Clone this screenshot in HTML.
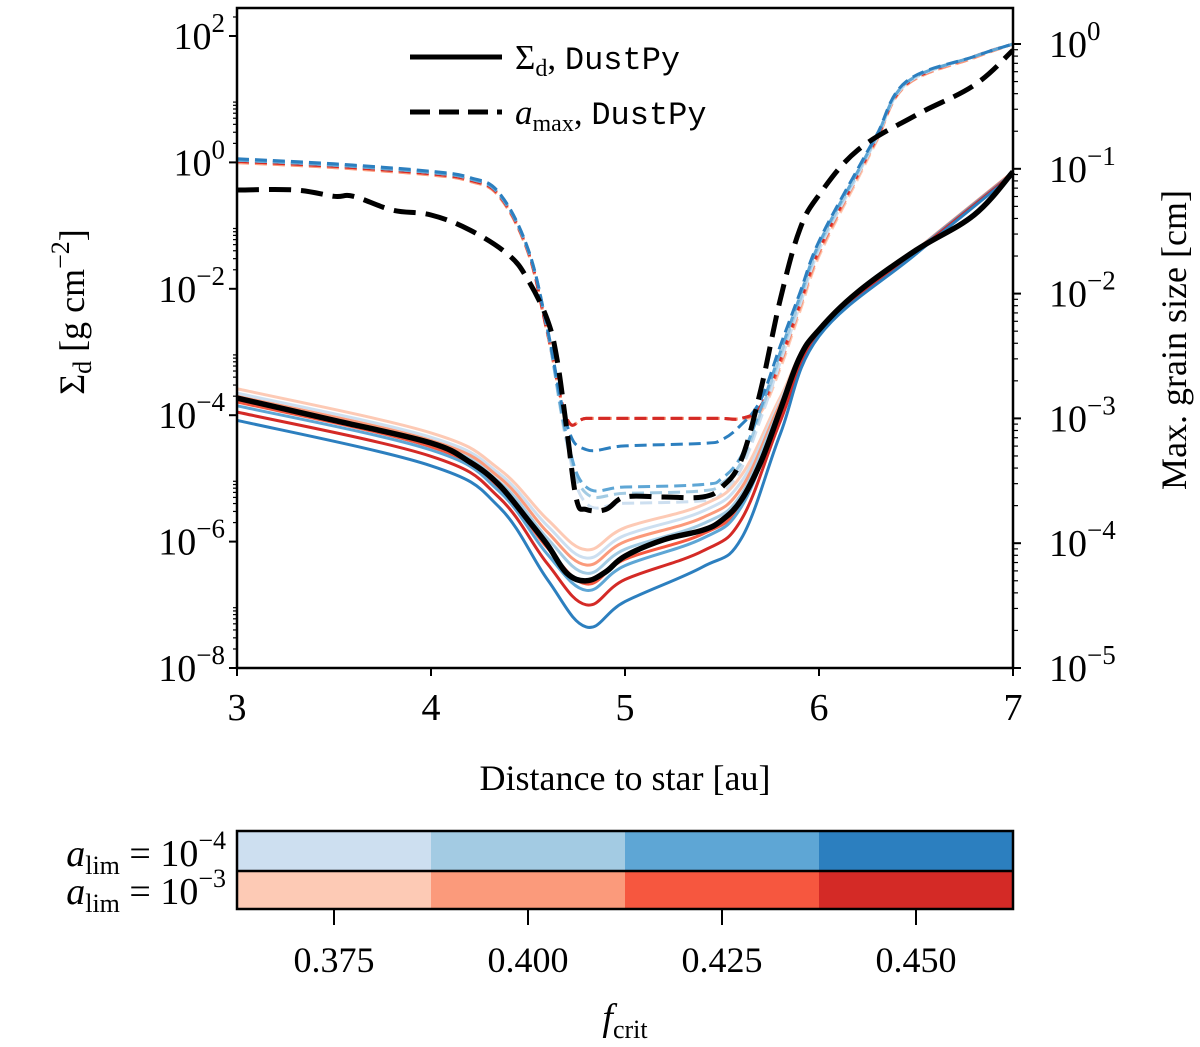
<!DOCTYPE html>
<html><head><meta charset="utf-8">
<style>
html,body{margin:0;padding:0;background:#fff;}
svg{display:block;font-family:"Liberation Serif",serif;}
.mono{font-family:"Liberation Mono",monospace;}
</style></head>
<body>
<svg id="chart" width="1200" height="1047" viewBox="0 0 1200 1047" xmlns="http://www.w3.org/2000/svg">
<g id="plot"></g>
<g id="axes"></g>
<g id="legend">
  <line x1="410" y1="57" x2="502" y2="57" stroke="#000" stroke-width="5"/>
  <text x="515" y="69" font-size="35">Σ<tspan font-size="24" dy="7">d</tspan><tspan dy="-7">, </tspan><tspan class="mono" font-size="32">DustPy</tspan></text>
  <line x1="410" y1="112" x2="502" y2="112" stroke="#000" stroke-width="5" stroke-dasharray="20,9"/>
  <text x="515" y="124" font-size="35"><tspan font-style="italic">a</tspan><tspan font-size="24" dy="7">max</tspan><tspan dy="-7">, </tspan><tspan class="mono" font-size="32">DustPy</tspan></text>
</g>
<g id="cbar"></g>
</svg>
<script>
const xTicks=[3,4,5,6,7];
const leftTicks=[2,0,-2,-4,-6,-8];
const rightTicks=[0,-1,-2,-3,-4,-5];
const cbTicks=["0.375","0.400","0.425","0.450"];
const blues=["#cddff0","#a3cbe3","#5ea6d5","#2c7fbf"];
const reds=["#fdcab5","#fb9a7b","#f6573f","#d42a26"];
// black Sigma_d (log10)
const blackX=[3,3.5,4,4.2,4.35,4.5,4.6,4.7,4.8,4.9,5.0,5.2,5.4,5.5,5.6,5.7,5.8,5.9,6.0,6.2,6.5,6.8,7.0];
const blackSigma=[-3.73,-4.08,-4.44,-4.74,-5.10,-5.66,-6.05,-6.50,-6.62,-6.48,-6.23,-5.97,-5.82,-5.66,-5.34,-4.74,-3.92,-3.09,-2.65,-2.05,-1.39,-0.83,-0.15];
const blackAx=[3,3.3,3.5,3.6,3.8,4.0,4.2,4.4,4.5,4.6,4.65,4.7,4.75,4.8,4.9,5.0,5.2,5.4,5.5,5.6,5.7,5.8,5.9,6.0,6.2,6.5,6.8,7.0];
const blackAmax=[-1.17,-1.17,-1.22,-1.22,-1.33,-1.37,-1.49,-1.69,-1.89,-2.21,-2.53,-3.09,-3.65,-3.73,-3.73,-3.63,-3.63,-3.63,-3.55,-3.33,-2.77,-2.05,-1.49,-1.21,-0.85,-0.57,-0.33,-0.05];
// coloured Sigma_d
const sX=[3,4,4.35,4.6,4.8,5.0,5.4,5.6,5.8,6.0,6.5,7];
const sigmaBlue=[
[-3.65,-4.35,-4.92,-5.75,-6.26,-5.90,-5.52,-5.05,-3.78,-2.64,-1.39,-0.15],
[-3.76,-4.45,-5.05,-5.95,-6.50,-6.12,-5.72,-5.25,-3.88,-2.66,-1.40,-0.16],
[-3.85,-4.55,-5.20,-6.20,-6.77,-6.38,-5.95,-5.45,-3.98,-2.68,-1.40,-0.17],
[-4.08,-4.80,-5.45,-6.60,-7.35,-6.95,-6.40,-5.95,-4.30,-2.75,-1.45,-0.20]];
const sigmaRed=[
[-3.58,-4.28,-4.85,-5.65,-6.13,-5.78,-5.42,-4.95,-3.72,-2.63,-1.39,-0.15],
[-3.70,-4.40,-4.98,-5.85,-6.37,-6.00,-5.62,-5.15,-3.82,-2.65,-1.39,-0.15],
[-3.79,-4.50,-5.15,-6.10,-6.67,-6.28,-5.88,-5.40,-3.95,-2.67,-1.40,-0.16],
[-3.95,-4.65,-5.30,-6.35,-7.00,-6.60,-6.15,-5.65,-4.10,-2.70,-1.42,-0.18]];
// coloured a_max
const aX=[3,3.5,4,4.2,4.35,4.5,4.6,4.7,4.8,5.0,5.4,5.5,5.6,5.7,5.8,5.9,6.0,6.2,6.3,6.45,6.8,7];
const amaxBlue=[
[-0.93,-0.97,-1.03,-1.08,-1.20,-1.65,-2.29,-3.20,-3.68,-3.68,-3.66,-3.60,-3.40,-3.00,-2.55,-2.10,-1.65,-1.05,-0.75,-0.32,-0.10,0.0],
[-0.93,-0.97,-1.03,-1.08,-1.20,-1.65,-2.29,-3.18,-3.60,-3.60,-3.58,-3.52,-3.35,-2.95,-2.50,-2.06,-1.62,-1.03,-0.74,-0.31,-0.10,0.0],
[-0.93,-0.97,-1.03,-1.08,-1.20,-1.65,-2.29,-3.15,-3.55,-3.55,-3.53,-3.48,-3.30,-2.92,-2.47,-2.03,-1.60,-1.02,-0.73,-0.31,-0.10,0.0],
[-0.92,-0.96,-1.02,-1.07,-1.19,-1.64,-2.28,-3.05,-3.25,-3.22,-3.20,-3.17,-3.05,-2.85,-2.42,-2.00,-1.58,-1.00,-0.72,-0.30,-0.10,0.0]];
const amaxRed=[
[-0.95,-0.99,-1.05,-1.10,-1.22,-1.67,-2.32,-3.00,-3.00,-3.00,-3.00,-3.00,-3.00,-2.95,-2.60,-2.15,-1.70,-1.08,-0.77,-0.33,-0.11,0.0],
[-0.95,-0.99,-1.05,-1.10,-1.22,-1.67,-2.32,-3.00,-3.00,-3.00,-3.00,-3.00,-3.00,-2.93,-2.57,-2.12,-1.68,-1.06,-0.76,-0.33,-0.11,0.0],
[-0.94,-0.98,-1.04,-1.09,-1.21,-1.66,-2.31,-3.00,-3.00,-3.00,-3.00,-3.00,-3.00,-2.91,-2.55,-2.10,-1.66,-1.05,-0.75,-0.32,-0.10,0.0],
[-0.94,-0.98,-1.04,-1.09,-1.21,-1.66,-2.31,-3.00,-3.00,-3.00,-3.00,-3.00,-3.00,-2.90,-2.52,-2.08,-1.64,-1.04,-0.74,-0.32,-0.10,0.0]];

const NS="http://www.w3.org/2000/svg";
const X0=237,X1=1013,YT=8,YB=668;
const xs=v=>X0+(v-3)/4*(X1-X0);
const yl=v=>668-(v+8)*63.2;
const yr=v=>668-(v+5)*124.8;
function mk(tag,attrs,parent){const e=document.createElementNS(NS,tag);for(const k in attrs)e.setAttribute(k,attrs[k]);parent.appendChild(e);return e;}
const plot=document.getElementById('plot'),axes=document.getElementById('axes'),cb=document.getElementById('cbar');
function smoothPath(P){
  let d='M'+P[0][0].toFixed(1)+','+P[0][1].toFixed(1);
  for(let i=0;i<P.length-1;i++){
    const p0=P[Math.max(i-1,0)],p1=P[i],p2=P[i+1],p3=P[Math.min(i+2,P.length-1)];
    const t=0.18;
    const c1=[p1[0]+(p2[0]-p0[0])*t,p1[1]+(p2[1]-p0[1])*t];
    const c2=[p2[0]-(p3[0]-p1[0])*t,p2[1]-(p3[1]-p1[1])*t];
    d+='C'+c1[0].toFixed(1)+','+c1[1].toFixed(1)+' '+c2[0].toFixed(1)+','+c2[1].toFixed(1)+' '+p2[0].toFixed(1)+','+p2[1].toFixed(1);
  }
  return d;
}
function line(xa,ya,yf,color,w,dash,name){
  const P=xa.map((x,i)=>[xs(x),yf(ya[i])]);
  const p=mk('path',{d:smoothPath(P),fill:'none',stroke:color,'stroke-width':w,'stroke-linejoin':'round'},plot);
  if(dash)p.setAttribute('stroke-dasharray',dash);
  
  
}
for(let i=0;i<4;i++){line(aX,amaxRed[i],yr,reds[i],3,'12,6','amax-red-'+i);}
for(let i=0;i<4;i++){line(aX,amaxBlue[i],yr,blues[i],3,'12,6','amax-blue-'+i);}
for(let i=0;i<4;i++){line(sX,sigmaRed[i],yl,reds[i],3,null,'sigma-red-'+i);line(sX,sigmaBlue[i],yl,blues[i],3,null,'sigma-blue-'+i);}
line(blackAx,blackAmax,yr,'#000',5,'22,10','amax-dustpy');
line(blackX,blackSigma,yl,'#000',5.5,null,'sigma-dustpy');
// frame
const fr=mk('rect',{x:X0,y:YT,width:X1-X0,height:YB-YT,fill:'none',stroke:'#000','stroke-width':2.5},axes);


function txt(x,y,s,size,anchor,parent,name){const t=mk('text',{x:x,y:y,'font-size':size,'text-anchor':anchor},parent);t.innerHTML=s;return t;}
xTicks.forEach(v=>{const x=xs(v);mk('line',{x1:x,y1:YB,x2:x,y2:YB+8,stroke:'#000','stroke-width':2},axes);txt(x,YB+52,String(v),38,'middle',axes,'x-tick-'+v);});
leftTicks.forEach(v=>{const y=yl(v);mk('line',{x1:X0-8,y1:y,x2:X0,y2:y,stroke:'#000','stroke-width':2},axes);
 txt(X0-12,y+13,'10<tspan font-size="27" dy="-17">'+(v<0?'−'+(-v):v)+'</tspan>',38,'end',axes,'left-tick-'+v);
 for(let m=2;m<10;m++){const yy=y-Math.log10(m)*63.2; if(yy>YT) mk('line',{x1:X0-4,y1:yy,x2:X0,y2:yy,stroke:'#000','stroke-width':1.2},axes);} });
rightTicks.forEach(v=>{const y=yr(v);mk('line',{x1:X1,y1:y,x2:X1+8,y2:y,stroke:'#000','stroke-width':2},axes);
 txt(X1+36,y+13,'10<tspan font-size="27" dy="-17">'+(v<0?'−'+(-v):v)+'</tspan>',38,'start',axes,'right-tick-'+v);
 for(let m=2;m<10;m++){const yy=y-Math.log10(m)*124.8; if(yy>YT) mk('line',{x1:X1,y1:yy,x2:X1+5,y2:yy,stroke:'#000','stroke-width':1.2},axes);} });
txt(625,790,'Distance to star [au]',36,'middle',axes,'x-axis-title');
const yt=txt(0,0,'Σ<tspan font-size="26" dy="7">d</tspan><tspan dy="-7"> [g cm</tspan><tspan font-size="26" dy="-15">−2</tspan><tspan dy="15">]</tspan>',36,'middle',axes,'left-y-axis-title');
yt.setAttribute('transform','translate(84,312) rotate(-90)');
const yt2=txt(0,0,'Max. grain size [cm]',36,'middle',axes,'right-y-axis-title');
yt2.setAttribute('transform','translate(1186,340) rotate(-90)');
// colorbar
const cw=(X1-X0)/4;
for(let i=0;i<4;i++){
 const b=mk('rect',{x:X0+i*cw,y:831,width:cw+0.5,height:40,fill:blues[i]},cb);
 
 
 const r=mk('rect',{x:X0+i*cw,y:871,width:cw+0.5,height:38,fill:reds[i]},cb);
 
 
 const x=X0+(i+0.5)*cw;
 mk('line',{x1:x,y1:909,x2:x,y2:925,stroke:'#000','stroke-width':2},cb);
 txt(x,972,cbTicks[i],36,'middle',cb,'colorbar-tick-'+cbTicks[i]);
}
mk('rect',{x:X0,y:831,width:X1-X0,height:78,fill:'none',stroke:'#000','stroke-width':2.5},cb);
mk('line',{x1:X0,y1:871,x2:X1,y2:871,stroke:'#000','stroke-width':2.5},cb);
txt(226,866,'<tspan font-style="italic">a</tspan><tspan font-size="26" dy="8">lim</tspan><tspan dy="-8"> = 10</tspan><tspan font-size="26" dy="-17">−4</tspan>',38,'end',cb,'colorbar-label-alim-4');
txt(226,904,'<tspan font-style="italic">a</tspan><tspan font-size="26" dy="8">lim</tspan><tspan dy="-8"> = 10</tspan><tspan font-size="26" dy="-17">−3</tspan>',38,'end',cb,'colorbar-label-alim-3');
txt(625,1030,'<tspan font-style="italic">f</tspan><tspan font-size="26" dy="8">crit</tspan>',38,'middle',cb,'colorbar-title');
</script>
</body></html>
